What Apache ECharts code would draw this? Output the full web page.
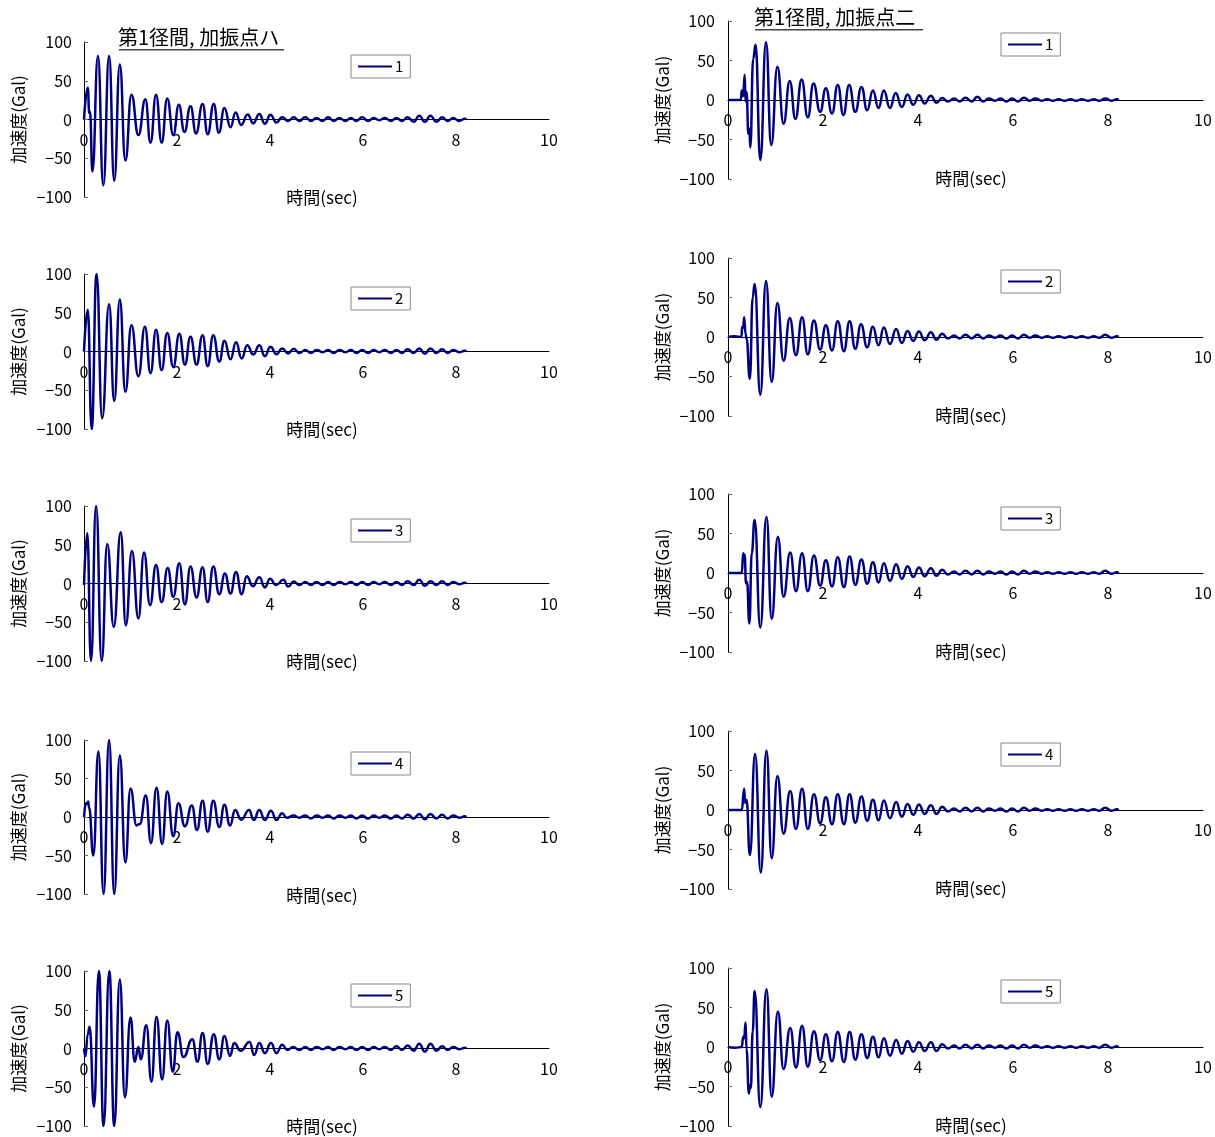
<!DOCTYPE html>
<html><head><meta charset="utf-8">
<script src="https://cdn.jsdelivr.net/npm/echarts@6/dist/echarts.min.js"></script>
<style>html,body{margin:0;padding:0;background:#fff}#c{width:1215px;height:1137px}</style>
</head><body><div id="c"></div>
<script>
// ---- data: [time(sec), acceleration(Gal)] extrema ----
const titleLeft = "第1径間, 加振点ハ";
const titleRight = "第1径間, 加振点二";
const seriesNames = ["1","2","3","4","5"];
const xTicks = [0,2,4,6,8,10];
const yTicks = [-100,-50,0,50,100];

const L1 = [[0,0],[0.08,41],[0.115,8],[0.13,10],[0.18,-67],[0.30,82],[0.415,-85],[0.54,82],[0.65,-79],[0.77,71],[0.89,-53],[1.02,32],[1.17,-20],[1.32,26],[1.43,-30],[1.55,32],[1.67,-30],[1.79,27],[1.92,-20],[2.04,19],[2.16,-16],[2.29,17],[2.41,-18],[2.55,20],[2.66,-19],[2.79,20],[2.90,-17],[3.02,15],[3.15,-10],[3.26,9],[3.38,-7],[3.52,6.5],[3.64,-5],[3.77,7],[3.89,-5.5],[4.01,6],[4.14,-4],[4.26,3],[4.39,-2],[4.51,3]];
const L2 = [[0,0],[0.08,54],[0.165,-100],[0.27,100],[0.39,-86],[0.54,61],[0.65,-64],[0.77,67],[0.89,-52],[1.02,34],[1.17,-32],[1.31,32],[1.43,-28],[1.55,28],[1.67,-24],[1.79,24],[1.92,-20],[2.05,23],[2.17,-17],[2.29,19],[2.42,-17],[2.55,21],[2.66,-19],[2.78,21],[2.91,-13],[3.02,14],[3.15,-10],[3.27,12],[3.39,-9],[3.51,8],[3.64,-4],[3.77,8],[3.89,-6],[4.01,6],[4.14,-3.5],[4.26,4],[4.39,-2.5],[4.51,3.5]];
const L3 = [[0,-2],[0.07,65],[0.15,-100],[0.26,100],[0.38,-100],[0.50,51],[0.64,-56],[0.79,66],[0.90,-54],[1.03,42],[1.17,-45],[1.29,40],[1.42,-28],[1.55,24],[1.67,-24],[1.80,20],[1.92,-17],[2.05,26],[2.17,-27],[2.29,22],[2.42,-18],[2.55,21],[2.66,-24],[2.78,22],[2.91,-14],[3.03,13],[3.15,-13],[3.27,15],[3.39,-14],[3.50,9.5],[3.63,-3.5],[3.77,8],[3.89,-5],[4.00,6],[4.13,-2],[4.29,5],[4.39,-4],[4.51,2.5]];
const L4 = [[0,0],[0.04,18],[0.07,17],[0.09,20],[0.11,12],[0.20,-50],[0.31,85],[0.42,-100],[0.54,100],[0.65,-100],[0.77,80],[0.89,-59],[1.00,37],[1.13,-11],[1.20,-9],[1.33,28],[1.44,-34],[1.56,38],[1.68,-35],[1.79,33],[1.92,-25],[2.03,18],[2.17,-12],[2.32,15],[2.43,-17],[2.55,21],[2.66,-19],[2.78,21],[2.91,-13],[3.02,16],[3.14,-11],[3.25,9],[3.38,-3.5],[3.55,9],[3.65,-4],[3.77,9],[3.89,-4],[4.02,8],[4.14,-4],[4.26,5],[4.36,-1],[4.51,2]];
const L5 = [[0,0],[0.03,-10],[0.08,18],[0.12,28],[0.215,-75],[0.32,100],[0.42,-100],[0.545,100],[0.65,-100],[0.77,89],[0.88,-63],[1.00,40],[1.09,-17],[1.17,2],[1.22,-14],[1.34,30],[1.45,-43],[1.56,41],[1.68,-40],[1.79,36],[1.91,-30],[2.01,21],[2.14,-11],[2.33,12],[2.44,-17],[2.55,20],[2.66,-20],[2.79,18.5],[2.91,-14],[3.02,16],[3.14,-9.5],[3.23,7],[3.37,-3],[3.56,8.5],[3.66,-8.5],[3.77,7],[3.89,-6],[4.02,7],[4.14,-6],[4.26,5],[4.37,-2],[4.50,2]];

const R1 = [[0,0],[0.27,0],[0.29,12],[0.32,5],[0.35,32],[0.37,-2],[0.39,10],[0.43,-43],[0.45,-36],[0.47,-60],[0.53,52],[0.58,70],[0.68,-76],[0.80,73],[0.91,-57],[1.04,42],[1.17,-30],[1.30,24],[1.42,-24],[1.55,26],[1.68,-22],[1.80,21],[1.94,-15],[2.06,15],[2.19,-17],[2.31,19],[2.43,-19],[2.55,19],[2.68,-15],[2.81,16.5],[2.93,-13],[3.05,12],[3.17,-10],[3.28,12],[3.41,-10],[3.53,9],[3.66,-9],[3.78,7],[3.90,-6],[4.02,6],[4.14,-4.5],[4.27,5.5],[4.39,-3.5],[4.51,2.5]];
const R2 = [[0,0],[0.14,1],[0.28,0],[0.30,13],[0.32,12],[0.34,25],[0.37,4],[0.39,-2],[0.46,-53],[0.52,50],[0.56,67],[0.68,-73],[0.80,71],[0.92,-57],[1.04,43],[1.17,-30],[1.30,24],[1.43,-23],[1.56,25],[1.68,-22],[1.81,21],[1.94,-16],[2.06,15],[2.19,-17],[2.31,20],[2.44,-18],[2.56,20],[2.68,-15],[2.80,16],[2.93,-13],[3.05,13],[3.17,-10.5],[3.28,12],[3.41,-9],[3.54,10],[3.66,-7.5],[3.78,7.5],[3.90,-5],[4.02,7],[4.14,-4],[4.27,6],[4.39,-3.5],[4.51,4]];
const R3 = [[0,0],[0.29,0],[0.32,25],[0.33,21],[0.35,23],[0.38,-13],[0.40,-11],[0.45,-64],[0.50,25],[0.56,67],[0.68,-69],[0.81,71],[0.92,-58],[1.05,46],[1.17,-30],[1.31,26],[1.43,-23],[1.56,25],[1.68,-23],[1.81,22],[1.94,-16],[2.06,16],[2.19,-17],[2.31,20],[2.44,-18],[2.56,21],[2.68,-15],[2.81,17],[2.93,-13.5],[3.05,13.5],[3.17,-12],[3.28,12.5],[3.41,-10],[3.54,11],[3.66,-7.5],[3.78,8.5],[3.90,-5],[4.02,7],[4.14,-4],[4.27,6],[4.39,-3.5],[4.51,4]];
const R4 = [[0,0],[0.29,0],[0.34,27],[0.36,9],[0.39,13],[0.46,-57],[0.57,71],[0.69,-79],[0.81,75],[0.92,-61],[1.04,43],[1.17,-30],[1.31,24],[1.43,-24],[1.56,27],[1.68,-24],[1.81,20],[1.94,-17],[2.06,16],[2.19,-18],[2.31,20],[2.44,-18],[2.56,20],[2.68,-16],[2.81,17],[2.93,-13.5],[3.05,13],[3.17,-13],[3.28,12],[3.41,-10.5],[3.54,10],[3.66,-8.5],[3.78,7.5],[3.90,-6],[4.02,7],[4.14,-5],[4.27,6],[4.39,-5],[4.51,4]];
const R5 = [[0,0],[0.15,-1],[0.29,0],[0.32,13],[0.34,11],[0.37,31],[0.39,-3],[0.44,-59],[0.46,-48],[0.48,-52],[0.52,20],[0.56,71],[0.68,-76],[0.81,73],[0.92,-63],[1.05,45],[1.17,-28],[1.31,24],[1.43,-26],[1.56,27],[1.68,-25],[1.81,20],[1.94,-17],[2.06,16],[2.19,-18],[2.31,19],[2.44,-19],[2.56,19],[2.68,-16],[2.81,16],[2.93,-14],[3.05,13],[3.17,-13],[3.28,11],[3.41,-11],[3.54,9],[3.66,-8.5],[3.78,7.5],[3.90,-6],[4.02,6],[4.14,-5],[4.27,6],[4.39,-5],[4.51,3.5]];

// tail extrema (after 4.5 s)
const tailT = [4.63,4.76,4.88,5.00,5.13,5.25,5.37,5.49,5.62,5.74,5.86,5.98,6.11,6.23,6.35,6.47,6.60,6.72,6.84,6.96,7.09,7.21,7.33,7.45,7.58,7.70,7.82,7.94,8.07,8.19,8.22];
const L1tail = [-2,3,-2,2,-2,3,-2,2,-2,2,-2,3,-2,2,-1,2,-2,2,-2,3,-3,5,-3,5,-3,3,-2,2,-2,1,0];
const L2tail = [-2,2,-2,2,-1,2,-2,2,-1,2,-2,2,-2,2,-1,2,-2,2,-2,3,-2,4,-3,4,-2,3,-2,2,-1,1,0];
const L3tail = [-2,2,-2,2,-2,2,-2,2,-1,2,-2,2,-2,2,-1,2,-2,2,-2,3,-2,5,-3,3,-2,3,-2,2,-1,1,0];
const L4tail = [-1,2,-2,2,-1,2,-2,2,-1,2,-2,2,-2,2,-1,2,-2,2,-2,3,-2,4,-3,4,-2,3,-2,2,-1,1,0];
const L5tail = [-2,2,-2,2,-1,2,-2,2,-1,2,-2,2,-2,2,-1,2,-2,3,-2,4,-3,6,-4,6,-3,3,-2,2,-1,1,0];
const R1tail = [-2,2,-2,3,-2,4,-2,2,-1,2,-2,2,-2,3,-1,2,-1,1,-1,1,-1,1,-1,1,-1,1,-1,2,-1,1,0];
const R2tail = [-2,2,-2,3,-2,3,-2,2,-1,2,-2,2,-2,3,-1,2,-1,1,-1,1,-1,1,-1,1,-1,1,-1,3,-1,1,0];
const R3tail = [-2,2,-2,3,-2,3,-2,2,-1,2,-2,2,-2,3,-1,2,-1,1,-1,1,-1,1,-1,1,-1,1,-1,3,-1,1,0];
const R4tail = [-2,2,-2,3,-2,3,-2,2,-1,2,-2,2,-2,3,-1,2,-1,1,-1,1,-1,1,-1,1,-1,1,-1,3,-1,1,0];
const R5tail = [-2,2,-2,3,-2,3,-2,2,-1,2,-2,2,-2,3,-1,2,-1,1,-1,1,-1,1,-1,1,-1,1,-1,3,-1,1,0];

// ---- chart ----
const FONT = '"Noto Sans CJK JP", "Noto Sans", sans-serif';
const LINE = '#000080';
const heads = [L1,L2,L3,L4,L5,R1,R2,R3,R4,R5];
const tails = [L1tail,L2tail,L3tail,L4tail,L5tail,R1tail,R2tail,R3tail,R4tail,R5tail];
const panels = [
  {l:84,t:42,w:465,h:155,lg:[351,55]},
  {l:84,t:274,w:465,h:155,lg:[351,287]},
  {l:84,t:506,w:465,h:155,lg:[351,519]},
  {l:84,t:740,w:465,h:154,lg:[351,752]},
  {l:84,t:971,w:465,h:155,lg:[351,984]},
  {l:728,t:21,w:475,h:158,lg:[1001,33]},
  {l:728,t:258,w:475,h:158,lg:[1001,270]},
  {l:728,t:494,w:475,h:158,lg:[1001,507]},
  {l:728,t:731,w:475,h:158,lg:[1001,743]},
  {l:728,t:968,w:475,h:158,lg:[1001,980]}
];
const grid=[],xAxis=[],yAxis=[],series=[],legend=[];
panels.forEach((p,i)=>{
  const name = seriesNames[i%5];
  grid.push({left:p.l,top:p.t,width:p.w,height:p.h,containLabel:false,outerBoundsMode:'none'});
  xAxis.push({type:'value',gridIndex:i,min:xTicks[0],max:xTicks[xTicks.length-1],interval:2,
    position:'bottom',offset:-p.h/2,
    axisLine:{onZero:false,lineStyle:{color:'#000',width:1}},axisTick:{show:false},splitLine:{show:false},
    axisLabel:{fontFamily:FONT,fontSize:16,color:'#000',margin:12},
    name:'時間(sec)',nameLocation:'middle',nameGap:70,
    nameTextStyle:{fontFamily:FONT,fontSize:17,color:'#000',padding:[0,0,0,11]}});
  yAxis.push({type:'value',gridIndex:i,min:yTicks[0],max:yTicks[yTicks.length-1],interval:50,
    axisLine:{show:true,onZero:false,lineStyle:{color:'#000',width:1}},axisTick:{show:true,inside:true,length:4,lineStyle:{color:'#666'}},
    splitLine:{show:false},
    axisLabel:{fontFamily:FONT,fontSize:16,color:'#000',margin:i<5?12:13,formatter:v=>String(v).replace('-','\u2212')},
    name:'加速度(Gal)',nameLocation:'middle',nameGap:57,nameRotate:90,
    nameTextStyle:{fontFamily:FONT,fontSize:17,color:'#000'}});
  const data = heads[i].concat(tailT.map((t,k)=>[t,tails[i][k]]));
  series.push({name:name+'_'+i,type:'line',xAxisIndex:i,yAxisIndex:i,data:data,
    showSymbol:false,symbol:'none',smooth:0.5,smoothMonotone:'x',clip:true,
    lineStyle:{color:LINE,width:2.5},itemStyle:{color:LINE},z:3});
  legend.push({data:[{name:name+'_'+i}],left:p.lg[0],top:p.lg[1],orient:'horizontal',
    formatter:()=>name,icon:'rect',itemWidth:34,itemHeight:2,itemGap:4,
    padding:[4,7,4,7],borderColor:'#888',borderWidth:1,backgroundColor:'#fff',
    textStyle:{fontFamily:FONT,fontSize:15,color:'#000',padding:[0,0,0,-2]},selectedMode:false});
});
const graphic = [
  {type:'text',left:118,top:27,style:{text:titleLeft,font:'20px '+FONT,fill:'#000'}},
  {type:'rect',shape:{x:119,y:49,width:165,height:1.5},style:{fill:'#444'}},
  {type:'text',left:754,top:7,style:{text:titleRight,font:'20px '+FONT,fill:'#000'}},
  {type:'rect',shape:{x:755,y:29,width:168,height:1.5},style:{fill:'#444'}}
];
const chart = echarts.init(document.getElementById('c'),null,{renderer:'canvas'});
chart.setOption({animation:false,backgroundColor:'#fff',grid,xAxis,yAxis,series,legend,graphic});
</script></body></html>
